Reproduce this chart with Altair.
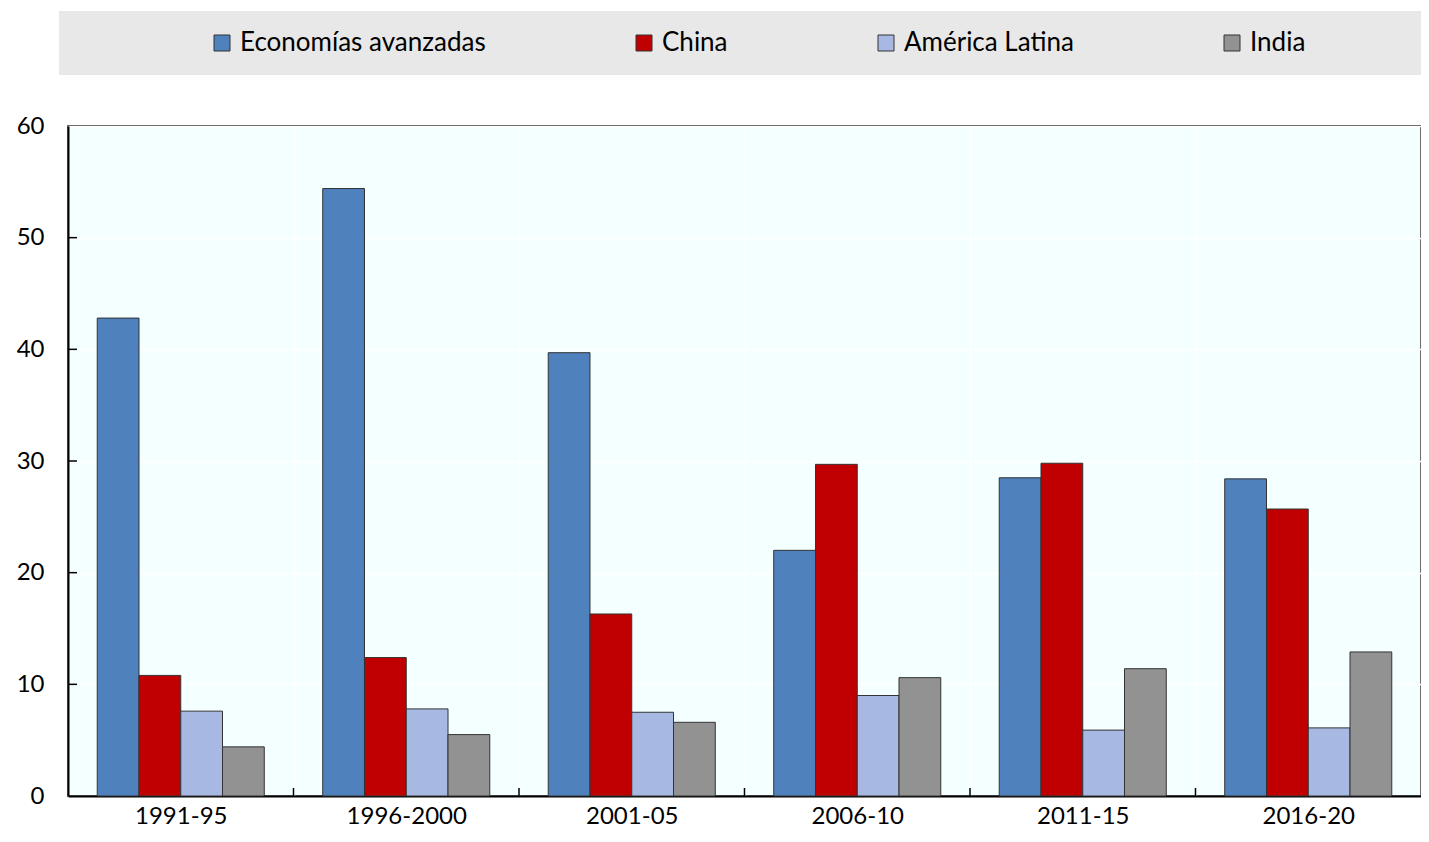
import altair as alt
import pandas as pd

periodos = ["1991-95", "1996-2000", "2001-05", "2006-10", "2011-15", "2016-20"]
series = ["Economías avanzadas", "China", "América Latina", "India"]
avanzadas = [42.8, 54.4, 39.7, 22.0, 28.5, 28.4]
china = [10.8, 12.4, 16.3, 29.7, 29.8, 25.7]
latina = [7.6, 7.8, 7.5, 9.0, 5.9, 6.1]
india = [4.4, 5.5, 6.6, 10.6, 11.4, 12.9]
colores = ["#4f81bd", "#c00000", "#a7b9e3", "#929292"]
y_ticks = [0, 10, 20, 30, 40, 50, 60]

rows = []
for s, vals in zip(series, [avanzadas, china, latina, india]):
    for p, v in zip(periodos, vals):
        rows.append({"periodo": p, "serie": s, "valor": v})
df = pd.DataFrame(rows)

W, H = 1353, 670

xscale = alt.Scale(paddingInner=0, paddingOuter=0)
xaxis = alt.Axis(title=None, labelAngle=0, tickBand="extent", grid=True,
                 gridColor="white", gridWidth=1.5, ticks=False,
                 domainColor="black", domainWidth=2, labelFontSize=24,
                 labelColor="black", labelPadding=8, labelFont="Lato")
yscale = alt.Scale(domain=[0, 60], nice=False)
yaxis = alt.Axis(title=None, values=y_ticks, grid=True, gridColor="white",
                 gridWidth=1.5, ticks=False, domainColor="black", domainWidth=2,
                 labelFontSize=24, labelColor="black", labelPadding=24,
                 labelFont="Lato")

box = alt.Chart(pd.DataFrame({"a": [0]})).mark_rect(color="#e8e8e8").encode(
    x=alt.value(-9), x2=alt.value(W), y=alt.value(-115), y2=alt.value(-51)
)

bars = alt.Chart(df).mark_bar(stroke="#333333", strokeWidth=1).encode(
    x=alt.X("periodo:N", sort=periodos, scale=xscale, axis=xaxis),
    xOffset=alt.XOffset("serie:N", sort=series,
                        scale=alt.Scale(paddingOuter=0.7, paddingInner=0)),
    y=alt.Y("valor:Q", scale=yscale, axis=yaxis),
    color=alt.Color("serie:N", scale=alt.Scale(domain=series, range=colores),
                    legend=alt.Legend(orient="none", legendX=141, legendY=-96,
                                      direction="horizontal", columns=4,
                                      title=None, symbolType="square",
                                      symbolSize=256, symbolStrokeColor="#333333",
                                      symbolStrokeWidth=1, labelFontSize=26,
                                      labelFont="Lato", labelColor="black",
                                      labelLimit=0,
                                      columnPadding=145, labelOffset=5,
                                      padding=0)),
)

ytick_df = pd.DataFrame({"valor": y_ticks[1:-1]})
yticks = alt.Chart(ytick_df).mark_rule(color="black", strokeWidth=1.5).encode(
    y=alt.Y("valor:Q", scale=yscale, axis=yaxis),
    x=alt.value(0), x2=alt.value(9),
)

xtick_df = pd.DataFrame({"periodo": periodos[1:]})
xticks = alt.Chart(xtick_df).mark_rule(color="black", strokeWidth=1.5).encode(
    x=alt.X("periodo:N", sort=periodos, scale=xscale, axis=xaxis, bandPosition=0),
    y=alt.value(H), y2=alt.value(H - 8),
)

chart = alt.layer(box, bars, yticks, xticks).properties(
    width=W, height=H,
    padding={"left": 60, "top": 118, "right": 0, "bottom": 38},
    autosize=alt.AutoSizeParams(type="none"),
).configure(font="Lato").configure_view(
    fill="#f4ffff", stroke="black", strokeWidth=1.5
)

chart.save("out.html", embed_options={"renderer": "svg", "actions": False})
